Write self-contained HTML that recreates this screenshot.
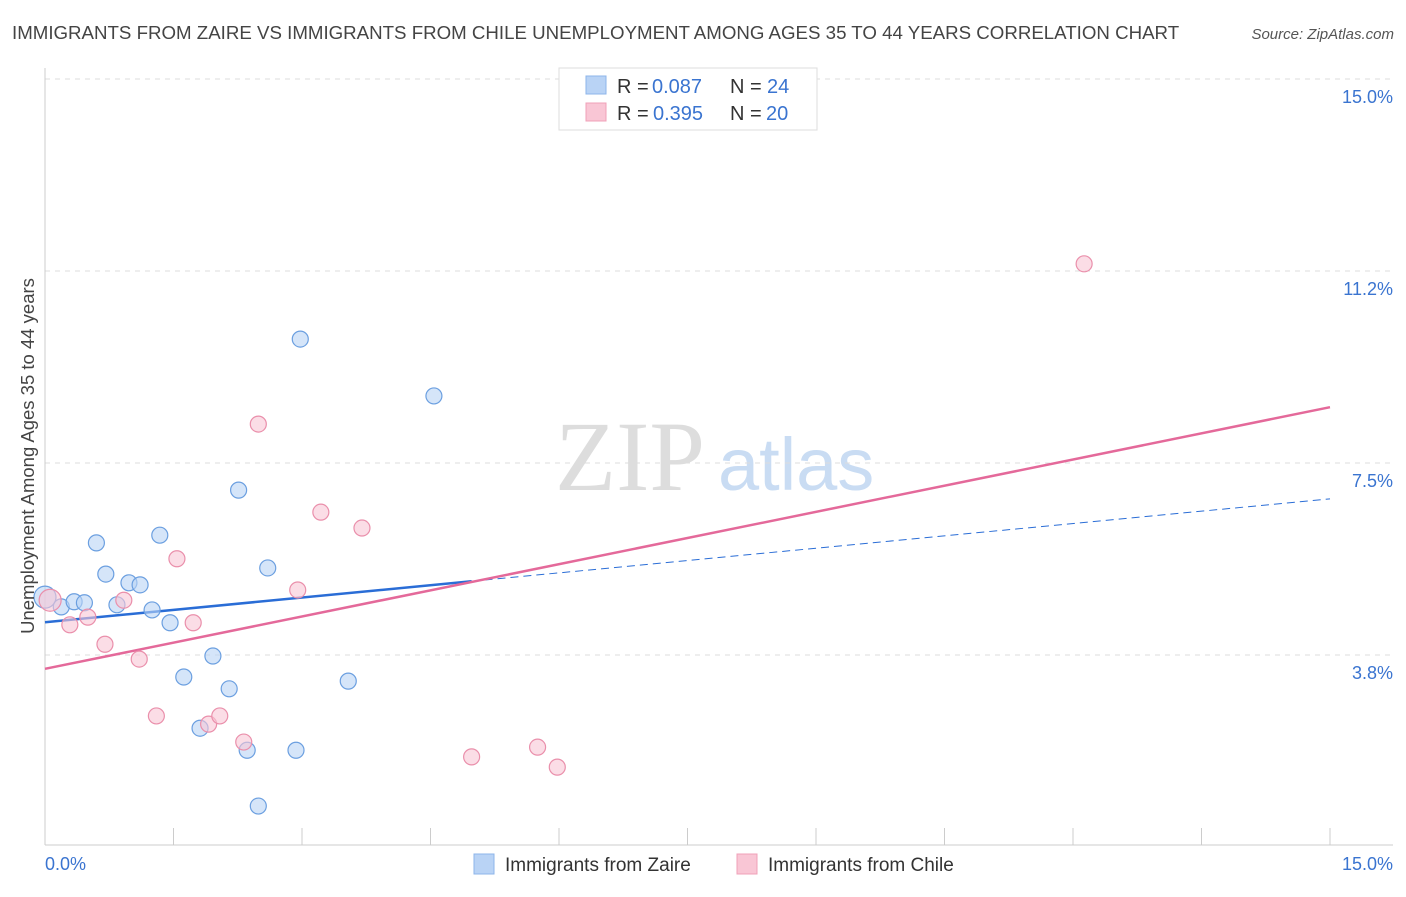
<!DOCTYPE html>
<html><head><meta charset="utf-8"><style>
body{margin:0;background:#fff;font-family:"Liberation Sans",sans-serif;}
svg text{font-family:"Liberation Sans",sans-serif;}
</style></head><body>
<svg id="chart" width="1406" height="892" xmlns="http://www.w3.org/2000/svg">
<text x="12" y="39" font-size="18.7" fill="#444">IMMIGRANTS FROM ZAIRE VS IMMIGRANTS FROM CHILE UNEMPLOYMENT AMONG AGES 35 TO 44 YEARS CORRELATION CHART</text>
<text x="1394" y="39" font-size="15" fill="#555" text-anchor="end" font-style="italic">Source: ZipAtlas.com</text>
<g>
<text x="555" y="490" font-size="100" fill="#ddd" style="font-family:'Liberation Serif',serif">ZIP</text>
<text x="718" y="490" font-size="74" fill="#c9dcf3">atlas</text>
</g>
<g id="grid"></g>
<g id="axes"></g>
<g id="lines"></g>
<g id="points"></g>
<text transform="translate(34,456) rotate(-90)" font-size="18.5" fill="#444" text-anchor="middle">Unemployment Among Ages 35 to 44 years</text>
<g>
<rect x="559" y="68" width="258" height="62" fill="#fff" stroke="#ddd"/>
<rect x="586" y="76" width="20" height="18" fill="#b9d3f5" stroke="#8db5ea"/>
<rect x="586" y="103" width="20" height="18" fill="#f9c6d5" stroke="#f0a0b8"/>
<text x="617" y="93" font-size="20" fill="#333">R =</text>
<text x="652" y="93" font-size="20" fill="#3a74d0">0.087</text>
<text x="730" y="93" font-size="20" fill="#333">N =</text>
<text x="767" y="93" font-size="20" fill="#3a74d0">24</text>
<text x="617" y="120" font-size="20" fill="#333">R =</text>
<text x="653" y="120" font-size="20" fill="#3a74d0">0.395</text>
<text x="730" y="120" font-size="20" fill="#333">N =</text>
<text x="766" y="120" font-size="20" fill="#3a74d0">20</text>
</g>
<g>
<rect x="474" y="854" width="20" height="20" fill="#b9d3f5" stroke="#8db5ea"/>
<text x="505" y="871" font-size="19" fill="#333">Immigrants from Zaire</text>
<rect x="737" y="854" width="20" height="20" fill="#f9c6d5" stroke="#f0a0b8"/>
<text x="768" y="871" font-size="19" fill="#333">Immigrants from Chile</text>
</g>
</svg>
<script>
const yTicks=[3.75,7.5,11.25,15];
const yTickLabels=["3.8%","7.5%","11.2%","15.0%"];
const xTickCount=10;
const zaireX=[0,0.19,0.34,0.46,0.60,0.71,0.84,0.98,1.11,1.25,1.34,1.46,1.62,1.81,1.96,2.15,2.26,2.36,2.49,2.60,2.93,2.98,3.54,4.54];
const zaireY=[4.88,4.69,4.79,4.77,5.94,5.33,4.73,5.16,5.12,4.63,6.09,4.38,3.32,2.32,3.73,3.09,6.97,1.89,0.80,5.45,1.89,9.92,3.24,8.81];
const chileX=[0.06,0.29,0.50,0.70,0.92,1.10,1.30,1.54,1.73,1.91,2.04,2.32,2.49,2.95,3.22,3.70,4.98,5.75,5.98,12.13];
const chileY=[4.82,4.34,4.49,3.96,4.82,3.67,2.56,5.63,4.38,2.40,2.56,2.05,8.26,5.02,6.54,6.23,1.76,1.95,1.56,11.39];
const zaireLine=[4.39,6.80,4.98];
const chileLine=[3.48,8.59];
const NS="http://www.w3.org/2000/svg";
const X=v=>45+v*(1285/15), Y=v=>847-v*51.2;
function mk(t,a,p){const e=document.createElementNS(NS,t);for(const k in a)e.setAttribute(k,a[k]);document.getElementById(p).appendChild(e);return e;}
yTicks.forEach((t,i)=>{
 const g=mk('line',{x1:45,x2:1393,y1:Y(t),y2:Y(t),stroke:'#ddd','stroke-dasharray':'5,5'},'grid');
 
 
 const l=mk('text',{x:1393,y:Y(t)+24,'font-size':18,fill:'#3a74d0','text-anchor':'end'},'axes');
 l.textContent=yTickLabels[i];
 
 
});
const xa=mk('line',{x1:45,x2:1393,y1:845,y2:845,stroke:'#ccc'},'axes');


const ya=mk('line',{x1:45,x2:45,y1:68,y2:845,stroke:'#ccc'},'axes');


for(let i=1;i<=xTickCount;i++){const t=mk('line',{x1:X(i*1.5),x2:X(i*1.5),y1:828,y2:845,stroke:'#ccc'},'axes');
 
 }
[["0.0%",45,'start'],["15.0%",1393,'end']].forEach(a=>{const t=mk('text',{x:a[1],y:870,'font-size':18,fill:'#3a74d0','text-anchor':a[2]},'axes');t.textContent=a[0];
 
 });
function pts(xs,ys,fill,stroke,name){xs.forEach((x,i)=>{const c=mk('circle',{cx:X(x),cy:Y(ys[i]),r:(i==0?11:8),fill:fill,stroke:stroke,'stroke-width':1.2,'fill-opacity':0.6},'points');
 
 });}
pts(zaireX,zaireY,'#b9d3f5','#6b9fe0','zaire-point');
pts(chileX,chileY,'#f9c6d5','#ea8fab','chile-point');
let l1=mk('line',{x1:X(0),y1:Y(zaireLine[0]),x2:X(zaireLine[2]),y2:Y(zaireLine[0]+(zaireLine[1]-zaireLine[0])*zaireLine[2]/15),stroke:'#2a6dd6','stroke-width':2.5},'lines');


let l2=mk('line',{x1:X(zaireLine[2]),y1:Y(zaireLine[0]+(zaireLine[1]-zaireLine[0])*zaireLine[2]/15),x2:X(15),y2:Y(zaireLine[1]),stroke:'#2a6dd6','stroke-width':1,'stroke-dasharray':'8,5'},'lines');


let l3=mk('line',{x1:X(0),y1:Y(chileLine[0]),x2:X(15),y2:Y(chileLine[1]),stroke:'#e4699a','stroke-width':2.5},'lines');


</script>
</body></html>
